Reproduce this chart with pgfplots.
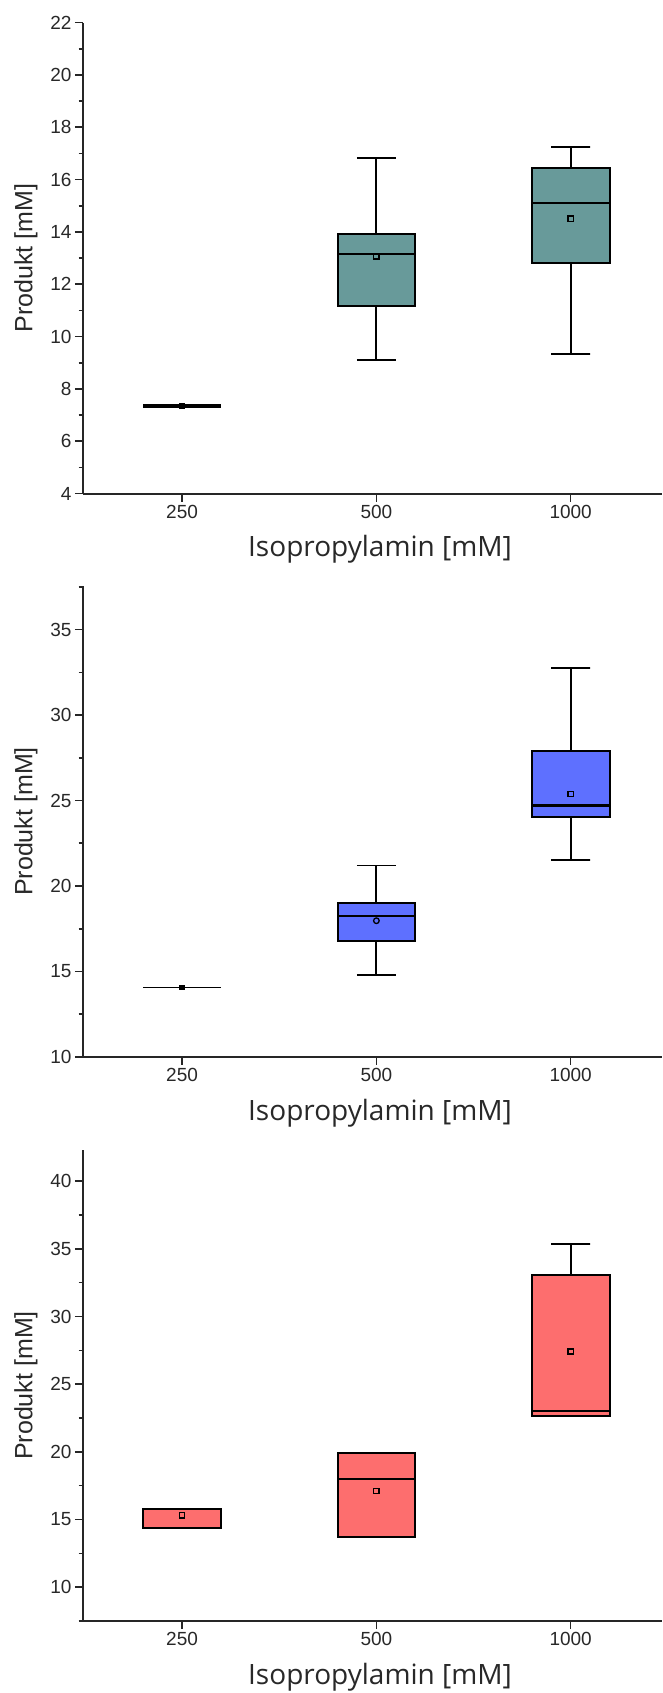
\documentclass[border=0pt]{standalone}
\usepackage{pgfplots}
\pgfplotsset{compat=1.18}
\usepackage{fontspec}
\setmainfont{Liberation Sans}
\newfontfamily\labelfont{Open Sans}
\definecolor{cteal}{RGB}{104,154,154}
\definecolor{cblue}{RGB}{94,112,255}
\definecolor{cred}{RGB}{253,110,110}
\definecolor{txt}{RGB}{40,40,40}
\pgfplotsset{
  myaxis/.style={
    scale only axis, width=579pt, height=471pt, anchor=south west,
    xmin=-0.51, xmax=2.47,
    axis x line=bottom, axis y line=left,
    axis line style={-, line width=2pt, black!85},
    tick align=outside,
    major tick length=8pt, minor tick length=4.5pt,
    every tick/.style={line width=1.6pt, black!85},
    minor tick style={line width=1.6pt, black!85},
    xtick={0,1,2}, xticklabels={250,500,1000},
    /pgf/number format/assume math mode=true,
    ticklabel style={font=\fontsize{19}{19}\selectfont, text=txt},
    xlabel={Isopropylamin [mM]},
    ylabel={Produkt [mM]},
    every axis x label/.style={at={(axis description cs:0.513,-0.134)}, anchor=base, font=\labelfont\fontsize{28}{28}\selectfont, text=txt},
    every axis y label/.style={at={(axis description cs:-0.0876,0.5)}, rotate=90, anchor=base, font=\fontsize{25}{25}\selectfont, text=txt},
  },
  wh/.style={draw=black, line width=1.8pt, line join=miter, mark=none},
  bx/.style={draw=black, line width=2pt, line join=miter, mark=none, fill=#1},
  md/.style={draw=black, line width=2.1pt, mark=none},
  mn/.style={only marks, mark=square, mark size=2.6pt, mark options={draw=black, line width=1.3pt, fill=none}},
  mnf/.style={only marks, mark=square*, mark size=2.6pt, mark options={draw=black, fill=black, line width=1pt}},
  mnc/.style={only marks, mark=o, mark size=2.8pt, mark options={draw=black, line width=1.3pt}},
}
\begin{document}
\begin{tikzpicture}
% ---------- Panel 1 ----------
\begin{axis}[myaxis, at={(83pt,1199.4pt)},
  ymin=4, ymax=22, ytick={4,6,...,22}, minor ytick={5,7,...,21}]
% 250
\addplot[md, line width=3.8pt] coordinates {(-0.2,7.36) (0.2,7.36)};
\addplot[mnf] coordinates {(0,7.36)};
% 500
\addplot[wh] coordinates {(0.9,16.81) (1.1,16.81) (1,16.81) (1,13.92)};
\addplot[wh] coordinates {(0.9,9.11) (1.1,9.11) (1,9.11) (1,11.17)};
\addplot[bx=cteal] coordinates {(0.8,11.17) (1.2,11.17) (1.2,13.92) (0.8,13.92)} -- cycle;
\addplot[md] coordinates {(0.8,13.14) (1.2,13.14)};
\addplot[mn] coordinates {(1,13.06)};
% 1000
\addplot[wh] coordinates {(1.9,17.26) (2.1,17.26) (2,17.26) (2,16.43)};
\addplot[wh] coordinates {(1.9,9.32) (2.1,9.32) (2,9.32) (2,12.83)};
\addplot[bx=cteal] coordinates {(1.8,12.83) (2.2,12.83) (2.2,16.43) (1.8,16.43)} -- cycle;
\addplot[md] coordinates {(1.8,15.12) (2.2,15.12)};
\addplot[mn] coordinates {(2,14.51)};
\end{axis}
% ---------- Panel 2 ----------
\begin{axis}[myaxis, at={(83pt,636pt)},
  ymin=10, ymax=37.55, ytick={10,15,...,35}, minor ytick={12.5,17.5,...,37.5}]
% 250
\addplot[md, line width=1.8pt] coordinates {(-0.2,14.06) (0.2,14.06)};
\addplot[mnf, mark size=2.2pt] coordinates {(0,14.06)};
% 500
\addplot[wh] coordinates {(0.9,21.2) (1.1,21.2) (1,21.2) (1,18.99)};
\addplot[wh] coordinates {(0.9,14.78) (1.1,14.78) (1,14.78) (1,16.76)};
\addplot[bx=cblue] coordinates {(0.8,16.76) (1.2,16.76) (1.2,18.99) (0.8,18.99)} -- cycle;
\addplot[md] coordinates {(0.8,18.27) (1.2,18.27)};
\addplot[mnc] coordinates {(1,17.97)};
% 1000
\addplot[wh] coordinates {(1.9,32.77) (2.1,32.77) (2,32.77) (2,27.88)};
\addplot[wh] coordinates {(1.9,21.54) (2.1,21.54) (2,21.54) (2,24.01)};
\addplot[bx=cblue] coordinates {(1.8,24.01) (2.2,24.01) (2.2,27.88) (1.8,27.88)} -- cycle;
\addplot[md] coordinates {(1.8,24.71) (2.2,24.71)};
\addplot[mn] coordinates {(2,25.37)};
\end{axis}
% ---------- Panel 3 ----------
\begin{axis}[myaxis, at={(83pt,72pt)},
  ymin=7.5, ymax=42.3, ytick={10,15,...,40}, minor ytick={7.5,12.5,...,37.5}]
% 250
\addplot[bx=cred] coordinates {(-0.2,14.35) (0.2,14.35) (0.2,15.78) (-0.2,15.78)} -- cycle;
\addplot[md] coordinates {(-0.2,14.35) (0.2,14.35)};
\addplot[mn] coordinates {(0,15.30)};
% 500
\addplot[bx=cred] coordinates {(0.8,13.68) (1.2,13.68) (1.2,19.89) (0.8,19.89)} -- cycle;
\addplot[md] coordinates {(0.8,18.0) (1.2,18.0)};
\addplot[mn] coordinates {(1,17.1)};
% 1000
\addplot[wh] coordinates {(1.9,35.36) (2.1,35.36) (2,35.36) (2,33.03)};
\addplot[bx=cred] coordinates {(1.8,22.67) (2.2,22.67) (2.2,33.03) (1.8,33.03)} -- cycle;
\addplot[md] coordinates {(1.8,22.99) (2.2,22.99)};
\addplot[mn] coordinates {(2,27.41)};
\end{axis}
\pgfresetboundingbox
\useasboundingbox (0,0) rectangle (662pt,1693pt);
\end{tikzpicture}
\end{document}
